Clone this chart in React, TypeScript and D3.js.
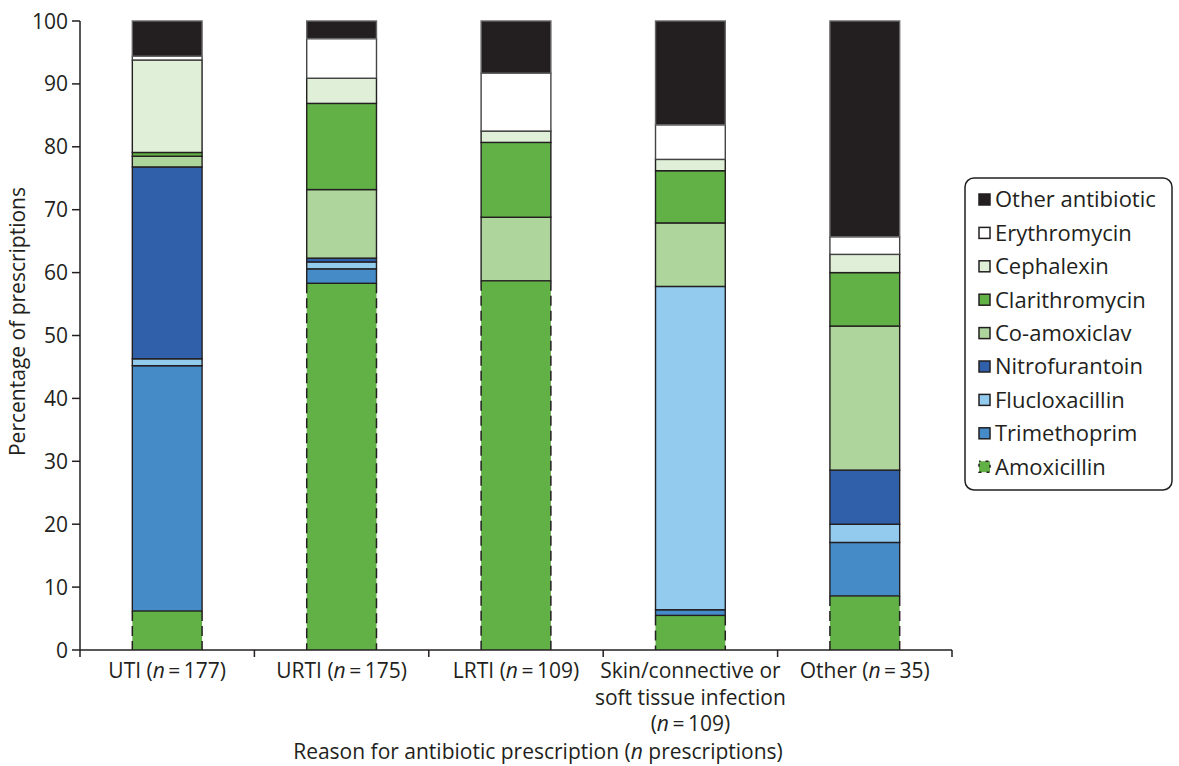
import React from "react";
import * as d3 from "d3";

const categories = ["UTI", "URTI", "LRTI", "Skin", "Other"];
const labelLines: string[][] = [
  ["UTI (n=177)"],
  ["URTI (n=175)"],
  ["LRTI (n=109)"],
  ["Skin/connective or", "soft tissue infection", "(n=109)"],
  ["Other (n=35)"],
];

const amoxicillin = [6.2, 58.3, 58.7, 5.5, 8.6];
const trimethoprim = [39.0, 2.3, 0, 0.9, 8.5];
const flucloxacillin = [1.1, 1.1, 0, 51.4, 2.9];
const nitrofurantoin = [30.5, 0.6, 0, 0, 8.6];
const coAmoxiclav = [1.7, 10.9, 10.1, 10.1, 22.9];
const clarithromycin = [0.6, 13.7, 11.9, 8.3, 8.5];
const cephalexin = [14.7, 4.0, 1.8, 1.8, 2.9];
const erythromycin = [0.6, 6.3, 9.2, 5.5, 2.8];
const otherAntibiotic = [5.6, 2.8, 8.3, 16.5, 34.3];

const yTicks = [0, 10, 20, 30, 40, 50, 60, 70, 80, 90, 100];

const series = [
  { name: "Amoxicillin", values: amoxicillin, color: "#62b146", stroke: "#231f20" },
  { name: "Trimethoprim", values: trimethoprim, color: "#458bc8", stroke: "#231f20" },
  { name: "Flucloxacillin", values: flucloxacillin, color: "#93cbee", stroke: "#231f20" },
  { name: "Nitrofurantoin", values: nitrofurantoin, color: "#3060aa", stroke: "#231f20" },
  { name: "Co-amoxiclav", values: coAmoxiclav, color: "#aed59c", stroke: "#231f20" },
  { name: "Clarithromycin", values: clarithromycin, color: "#62b146", stroke: "#231f20" },
  { name: "Cephalexin", values: cephalexin, color: "#e0efd8", stroke: "#231f20" },
  { name: "Erythromycin", values: erythromycin, color: "#ffffff", stroke: "#444" },
  { name: "Other antibiotic", values: otherAntibiotic, color: "#231f20", stroke: "#666" },
];

const FONT = "'Open Sans', 'Noto Sans', sans-serif";
const TXT = "#231f20";

function renderLabel(s: string) {
  const m = s.match(/^(.*)\(n=(\d+)\)(.*)$/);
  if (!m) return s;
  return (
    <>
      {m[1]}(<tspan fontStyle="italic">n</tspan>
      {"\u2009=\u2009"}
      {m[2]}){m[3]}
    </>
  );
}

export default function App() {
  const W = 1179, H = 766;
  const x0 = 80, x1 = 952, yTop = 21, yBot = 650;
  const x = d3.scaleBand<string>().domain(categories).range([x0, x1]).paddingInner(0.6).paddingOuter(0.3);
  const y = d3.scaleLinear().domain([0, 100]).range([yBot, yTop]);
  const step = x.step();

  const table = categories.map((c, i) => {
    const row: any = { cat: c };
    series.forEach((s) => (row[s.name] = s.values[i]));
    return row;
  });
  const stack = d3.stack<any>().keys(series.map((s) => s.name))(table);

  const legendItems = [...series].reverse();
  const lx = 965, ly = 178, lw = 207, lh = 312;

  return (
    <svg width={W} height={H} style={{ position: "absolute", left: 0, top: 0, background: "#fff" }} fontFamily={FONT}>
      {/* bars */}
      {stack.map((layer, si) => {
        const s = series[si];
        return layer.map((d, ci) => {
          const v = d[1] - d[0];
          if (v <= 0) return null;
          const bx = x(categories[ci])!;
          const bw = x.bandwidth();
          const ya = y(d[1]);
          const yb = y(d[0]);
          if (s.name === "Amoxicillin") {
            return (
              <g key={`${si}-${ci}`}>
                <rect x={bx} y={ya} width={bw} height={yb - ya} fill={s.color} />
                <line x1={bx} x2={bx} y1={ya} y2={yb} stroke="#231f20" strokeWidth={1.5} strokeDasharray="10,5" />
                <line x1={bx + bw} x2={bx + bw} y1={ya} y2={yb} stroke="#231f20" strokeWidth={1.5} strokeDasharray="10,5" />
              </g>
            );
          }
          return (
            <rect key={`${si}-${ci}`} x={bx} y={ya} width={bw} height={yb - ya} fill={s.color} stroke={s.stroke} strokeWidth={1.4} />
          );
        });
      })}

      {/* y axis */}
      <line x1={x0} x2={x0} y1={yTop} y2={yBot} stroke={TXT} strokeWidth={1.5} />
      {yTicks.map((t) => (
        <g key={t}>
          <line x1={x0 - 8} x2={x0} y1={y(t)} y2={y(t)} stroke={TXT} strokeWidth={1.5} />
          <text x={x0 - 12} y={y(t)} dy="0.36em" textAnchor="end" fontSize={21} fill={TXT}>
            {t}
          </text>
        </g>
      ))}
      <text transform={`translate(25,${(yTop + yBot) / 2 - 14}) rotate(-90)`} textAnchor="middle" fontSize={21} fill={TXT}>
        Percentage of prescriptions
      </text>

      {/* x axis */}
      <line x1={x0} x2={x1} y1={yBot} y2={yBot} stroke={TXT} strokeWidth={1.5} />
      {d3.range(categories.length + 1).map((i) => (
        <line key={i} x1={x0 + i * step} x2={x0 + i * step} y1={yBot} y2={yBot + 7} stroke={TXT} strokeWidth={1.5} />
      ))}
      {categories.map((c, i) => (
        <text key={c} x={x(c)! + x.bandwidth() / 2} y={678} textAnchor="middle" fontSize={21} fill={TXT}>
          {labelLines[i].map((ln, k) => (
            <tspan key={k} x={x(c)! + x.bandwidth() / 2} dy={k === 0 ? 0 : 26.5}>
              {renderLabel(ln)}
            </tspan>
          ))}
        </text>
      ))}
      <text x={(x0 + x1) / 2 + 22} y={759} textAnchor="middle" fontSize={21} fill={TXT}>
        Reason for antibiotic prescription (<tspan fontStyle="italic">n</tspan> prescriptions)
      </text>

      {/* legend */}
      <rect x={lx} y={ly} width={lw} height={lh} rx={9} ry={9} fill="#fff" stroke={TXT} strokeWidth={1.5} />
      {legendItems.map((s, i) => {
        const cy = 199.5 + i * 33.4;
        const isAmox = s.name === "Amoxicillin";
        return (
          <g key={s.name}>
            <rect
              x={979}
              y={cy - 5.5}
              width={11}
              height={11}
              fill={s.color}
              stroke="#231f20"
              strokeWidth={1.5}
              strokeDasharray={isAmox ? "3,5" : undefined}
              strokeDashoffset={isAmox ? 1.5 : undefined}
            />
            <text x={995} y={cy} dy="0.36em" fontSize={22} fill={TXT}>
              {s.name}
            </text>
          </g>
        );
      })}
    </svg>
  );
}
